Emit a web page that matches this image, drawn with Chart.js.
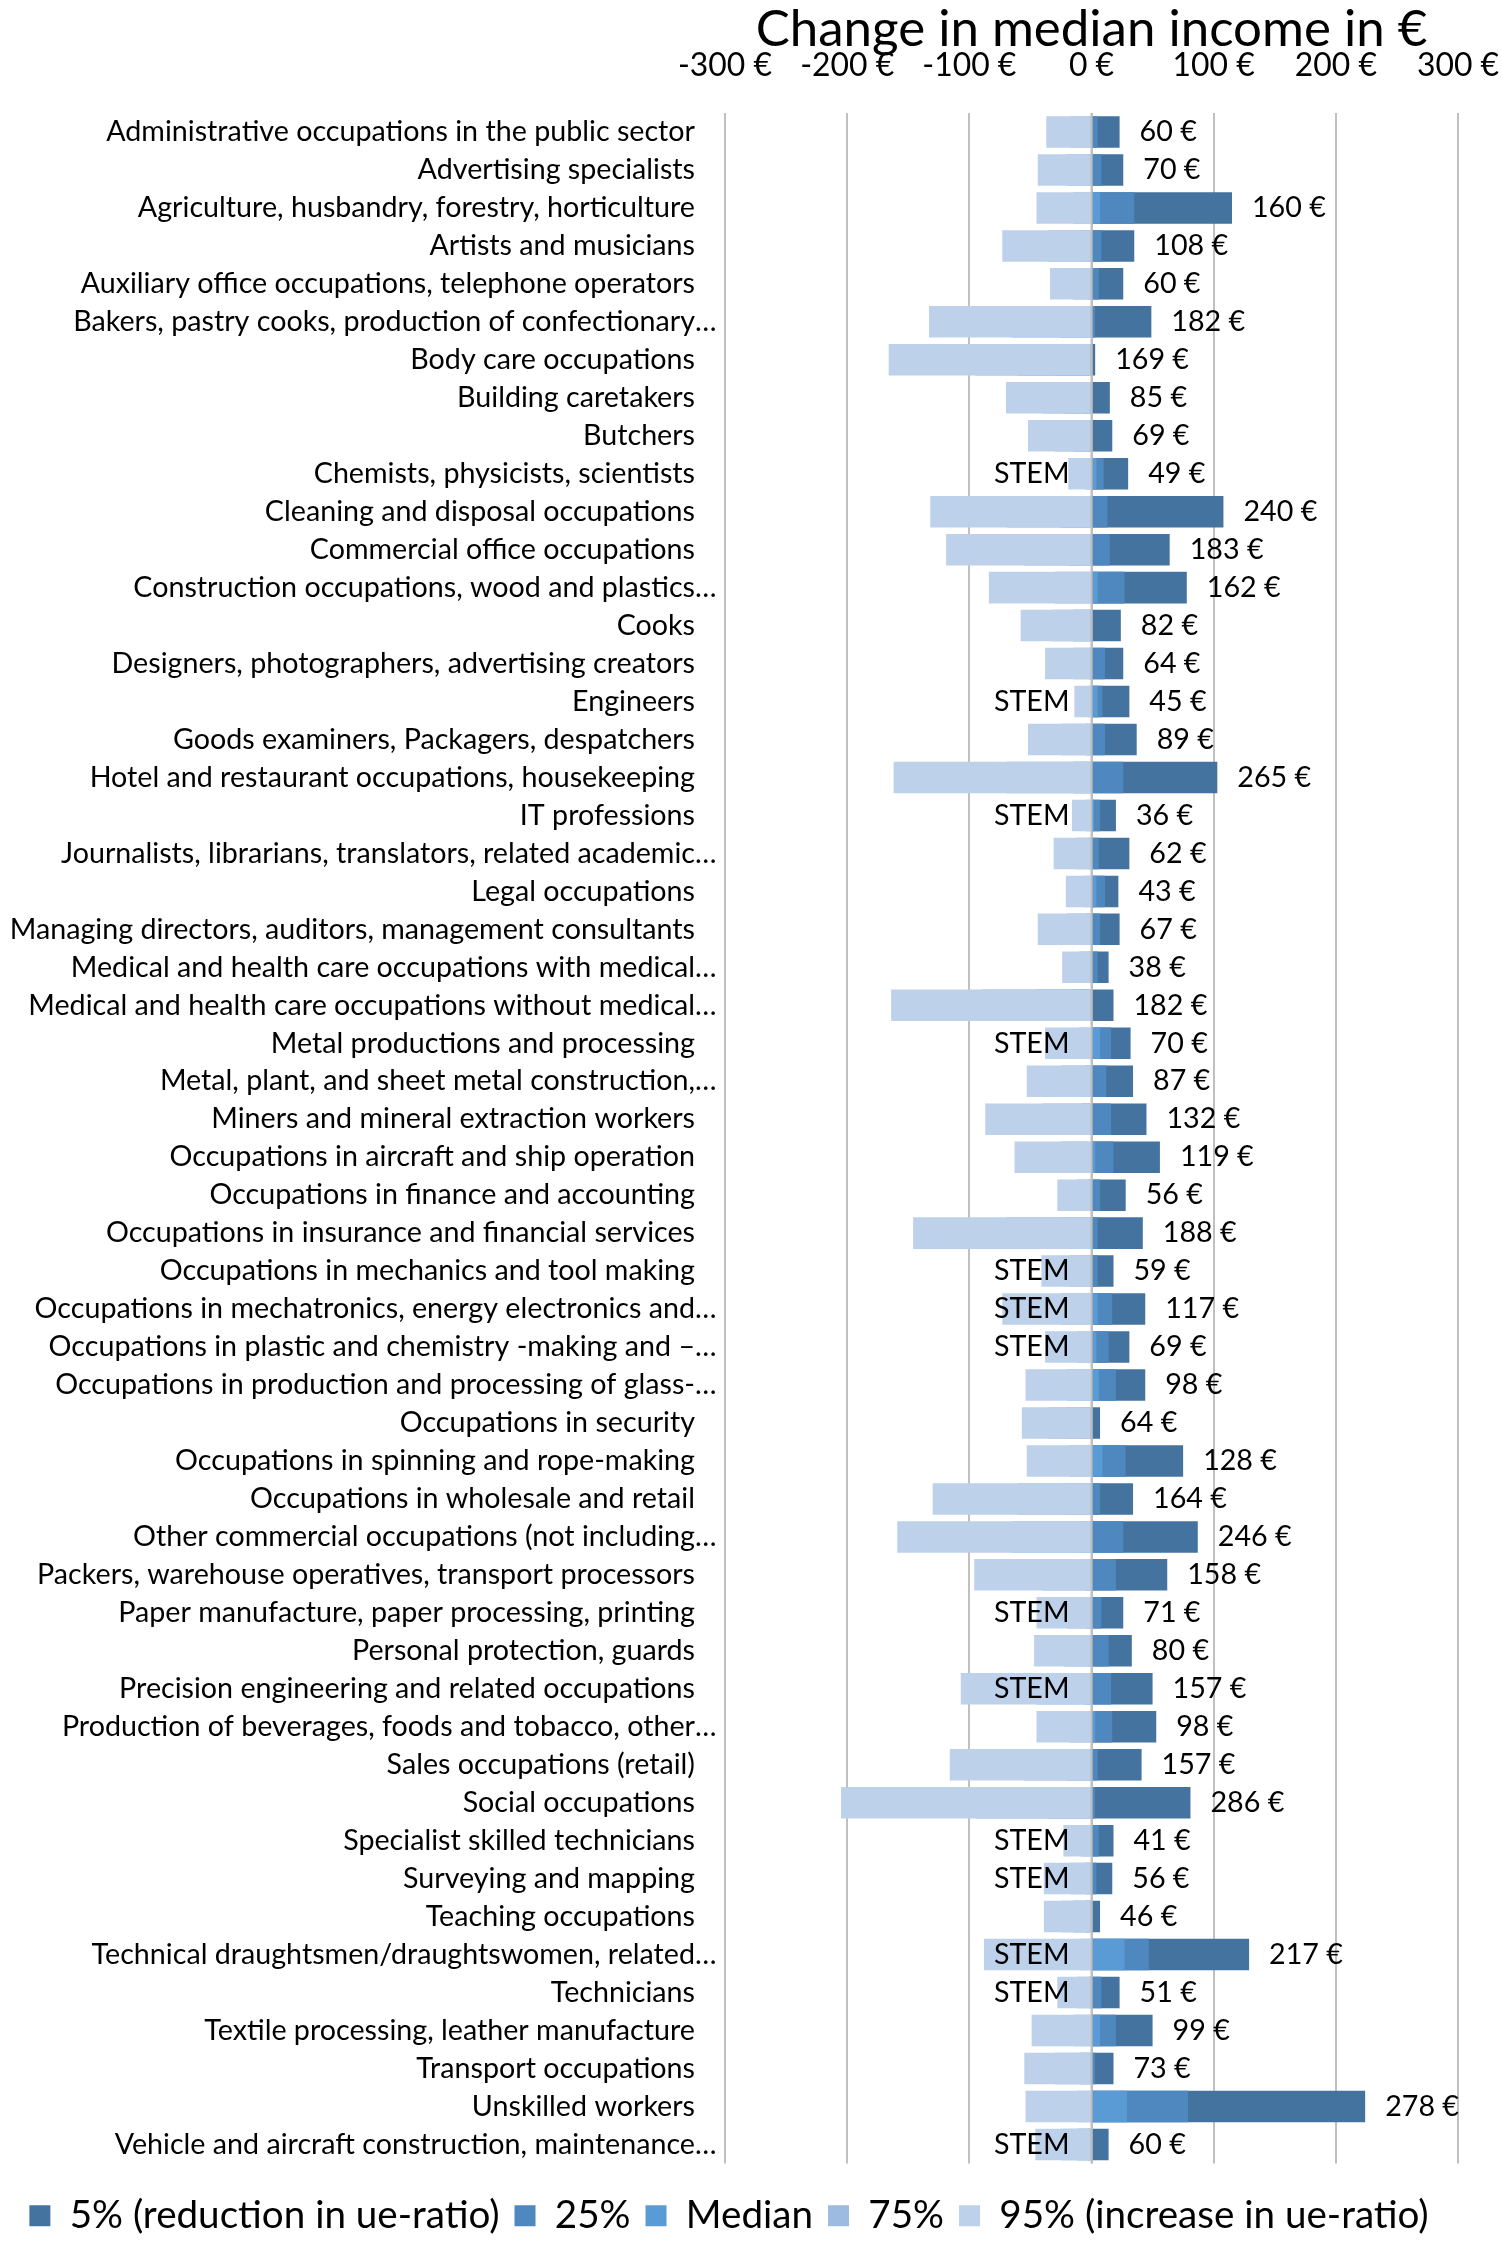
<!DOCTYPE html>
<html>
<head>
<meta charset="utf-8">
<script src="https://cdn.jsdelivr.net/npm/chart.js@4.4.1/dist/chart.umd.min.js"></script>
<style>
  html, body { margin: 0; padding: 0; background: #fff; }
</style>
</head>
<body>
<canvas id="myChart" width="1502" height="2245"></canvas>
<script>
// occupations, top to bottom
const categories = [
  'Administrative occupations in the public sector',
  'Advertising specialists',
  'Agriculture, husbandry, forestry, horticulture',
  'Artists and musicians',
  'Auxiliary office occupations, telephone operators',
  'Bakers, pastry cooks, production of confectionary…',
  'Body care occupations',
  'Building caretakers',
  'Butchers',
  'Chemists, physicists, scientists',
  'Cleaning and disposal occupations',
  'Commercial office occupations',
  'Construction occupations, wood and plastics…',
  'Cooks',
  'Designers, photographers, advertising creators',
  'Engineers',
  'Goods examiners, Packagers, despatchers',
  'Hotel and restaurant occupations, housekeeping',
  'IT professions',
  'Journalists, librarians, translators, related academic…',
  'Legal occupations',
  'Managing directors, auditors, management consultants',
  'Medical and health care occupations with medical…',
  'Medical and health care occupations without medical…',
  'Metal productions and processing',
  'Metal, plant, and sheet metal construction,…',
  'Miners and mineral extraction workers',
  'Occupations in aircraft and ship operation',
  'Occupations in finance and accounting',
  'Occupations in insurance and financial services',
  'Occupations in mechanics and tool making',
  'Occupations in mechatronics, energy electronics and…',
  'Occupations in plastic and chemistry -making and –…',
  'Occupations in production and processing of glass-…',
  'Occupations in security',
  'Occupations in spinning and rope-making',
  'Occupations in wholesale and retail',
  'Other commercial occupations (not including…',
  'Packers, warehouse operatives, transport processors',
  'Paper manufacture, paper processing, printing',
  'Personal protection, guards',
  'Precision engineering and related occupations',
  'Production of beverages, foods and tobacco, other…',
  'Sales occupations (retail)',
  'Social occupations',
  'Specialist skilled technicians',
  'Surveying and mapping',
  'Teaching occupations',
  'Technical draughtsmen/draughtswomen, related…',
  'Technicians',
  'Textile processing, leather manufacture',
  'Transport occupations',
  'Unskilled workers',
  'Vehicle and aircraft construction, maintenance…'
];

// change in median income (€) per quantile of the ue-ratio change
const p5     = [23, 26, 115, 35, 26, 49, 3, 15, 17, 30, 108, 64, 78, 24, 26, 31, 37, 103, 20, 31, 22, 23, 14, 18, 32, 34, 45, 56, 28, 42, 18, 44, 31, 44, 7, 75, 34, 87, 62, 26, 33, 50, 53, 41, 81, 18, 17, 7, 129, 23, 50, 18, 224, 14];
const p25    = [5, 8, 35, 8, 6, 3, -30, -5, -3, 10, 13, 15, 27, -2, 11, 9, 11, 26, 7, 6, 11, 7, 5, -15, 16, 12, 16, 18, 7, 5, 5, 17, 14, 20, -8, 28, 7, 26, 20, 8, 14, 16, 17, 5, 3, 6, 4, -5, 47, 8, 20, 3, 79, -3];
const median = [-3, -4, 7, -10, -3, -25, -61, -22, -15, 4, -26, -18, 5, -15, -2, 5, -5, -15, 2, -3, 4, -4, -2, -45, 7, -5, -8, 3, -3, -25, -4, 5, 4, 6, -20, 9, -20, -10, -5, -4, -3, -6, 3, -20, -35, -1, -5, -15, 27, -2, 7, -10, 29, -12];
const p75    = [-17, -20, -15, -35, -15, -65, -95, -40, -30, -5, -69, -55, -30, -32, -15, -3, -25, -70, -5, -13, -6, -20, -10, -90, -10, -25, -40, -25, -12, -70, -18, -25, -12, -20, -35, -18, -60, -65, -40, -20, -22, -45, -18, -55, -95, -9, -18, -25, -10, -12, -15, -30, -12, -25];
const p95    = [-37, -44, -45, -73, -34, -133, -166, -70, -52, -19, -132, -119, -84, -58, -38, -14, -52, -162, -16, -31, -21, -44, -24, -164, -38, -53, -87, -63, -28, -146, -41, -73, -38, -54, -57, -53, -130, -159, -96, -45, -47, -107, -45, -116, -205, -23, -39, -39, -88, -28, -49, -55, -54, -46];

// labels printed next to the bars (spread 5% .. 95%)
const spread = [60, 70, 160, 108, 60, 182, 169, 85, 69, 49, 240, 183, 162, 82, 64, 45, 89, 265, 36, 62, 43, 67, 38, 182, 70, 87, 132, 119, 56, 188, 59, 117, 69, 98, 64, 128, 164, 246, 158, 71, 80, 157, 98, 157, 286, 41, 56, 46, 217, 51, 99, 73, 278, 60];
const stem = [0,0,0,0,0,0,0,0,0,1,0,0,0,0,0,1,0,0,1,0,0,0,0,0,1,0,0,0,0,0,1,1,1,0,0,0,0,0,0,1,0,1,0,0,0,1,1,0,1,1,0,0,0,1];

const seriesNames = ['5% (reduction in ue-ratio)', '25%', 'Median', '75%', '95% (increase in ue-ratio)'];
const seriesColors = ['#44739f', '#4e88be', '#5b9bd5', '#9dbbe1', '#bed1ea'];
const xMin = -300, xMax = 300, xStep = 100;
const titleText = 'Change in median income in €';

const FONT = 'Lato, "Open Sans", sans-serif';

// size fonts so the text runs as wide as in the original
function fitSize(text, width) {
  const c = document.createElement('canvas').getContext('2d');
  c.font = '100px ' + FONT;
  return 100 * width / c.measureText(text).width;
}
const labelSize = fitSize(categories[0], 589);
const titleSize = fitSize(titleText, 672);
const tickSize = fitSize('-300 €', 94);
const legendSize = fitSize(seriesNames[0], 430);

const tickLH = tickSize * 1.2;
const tickPad = 47 - tickLH / 2;
const legendPad = 15;
const legendBox = 21;
const legendTitleH = 18;
const legendH = legendTitleH + Math.max(legendSize, legendBox) + legendPad + 10;

const labelRight = 695;

const extras = {
  id: 'extras',
  afterDatasetsDraw(chart) {
    const {ctx, chartArea, scales: {x, y}} = chart;
    const x0 = x.getPixelForValue(0);
    ctx.save();
    // zero line on top of the bars
    ctx.strokeStyle = '#bfbfbf';
    ctx.lineWidth = 2;
    ctx.beginPath();
    ctx.moveTo(x0, chartArea.top);
    ctx.lineTo(x0, chartArea.bottom);
    ctx.stroke();

    ctx.fillStyle = '#000';
    ctx.font = labelSize + 'px ' + FONT;
    ctx.textBaseline = 'middle';
    categories.forEach((name, i) => {
      const yy = y.getPixelForValue(i);
      ctx.textAlign = 'left';
      ctx.fillText(spread[i] + ' €', x.getPixelForValue(p5[i]) + 20, yy);
      if (stem[i]) {
        ctx.textAlign = 'right';
        ctx.fillText('STEM', x0 - 22, yy);
      }
      // category names, the ellipsis hangs past the right edge
      if (name.endsWith('…')) {
        ctx.textAlign = 'right';
        ctx.fillText(name.slice(0, -1), labelRight, yy);
        ctx.textAlign = 'left';
        ctx.fillText('…', labelRight, yy);
      } else {
        ctx.textAlign = 'right';
        ctx.fillText(name, labelRight, yy);
      }
    });

    ctx.font = titleSize + 'px ' + FONT;
    ctx.textAlign = 'center';
    ctx.textBaseline = 'alphabetic';
    ctx.fillText(titleText, (chartArea.left + chartArea.right) / 2, 46);
    ctx.restore();
  }
};

const values = [p5, p25, median, p75, p95];
const datasets = values.map((data, k) => ({
  label: seriesNames[k],
  data: data,
  backgroundColor: seriesColors[k],
  borderWidth: 0,
  grouped: false,
  order: values.length - k,
  barPercentage: 0.83,
  categoryPercentage: 1
}));

new Chart(document.getElementById('myChart'), {
  type: 'bar',
  data: { labels: categories, datasets: datasets },
  options: {
    indexAxis: 'y',
    responsive: false,
    animation: false,
    devicePixelRatio: 1,
    layout: { padding: { top: 113 - 94, right: 44, left: 0, bottom: Math.max(0, 2245 - 2165 - legendH) } },
    scales: {
      x: {
        position: 'top',
        min: xMin,
        max: xMax,
        ticks: {
          stepSize: xStep,
          padding: tickPad,
          color: '#000',
          font: { family: FONT, size: tickSize },
          maxRotation: 0,
          callback: (v) => v + ' €'
        },
        grid: { color: '#c0c0c0', lineWidth: 2, drawTicks: false },
        border: { display: false },
        // the last tick label may hang over the right edge
        afterFit: (scale) => { scale.paddingLeft = 0; scale.paddingRight = 0; }
      },
      y: {
        ticks: { display: false },
        grid: { display: false, drawTicks: false },
        border: { display: false },
        afterFit: (scale) => { scale.width = 725; }
      }
    },
    plugins: {
      legend: {
        position: 'bottom',
        title: { display: true, text: ' ', font: { size: 1 }, padding: { top: legendTitleH - 1.2, bottom: 0 } },
        labels: {
          color: '#000',
          font: { family: FONT, size: legendSize },
          boxWidth: legendBox,
          boxHeight: legendBox,
          padding: legendPad,
          sort: (a, b) => a.datasetIndex - b.datasetIndex
        }
      },
      tooltip: { enabled: false }
    }
  },
  plugins: [extras]
});
</script>
</body>
</html>
